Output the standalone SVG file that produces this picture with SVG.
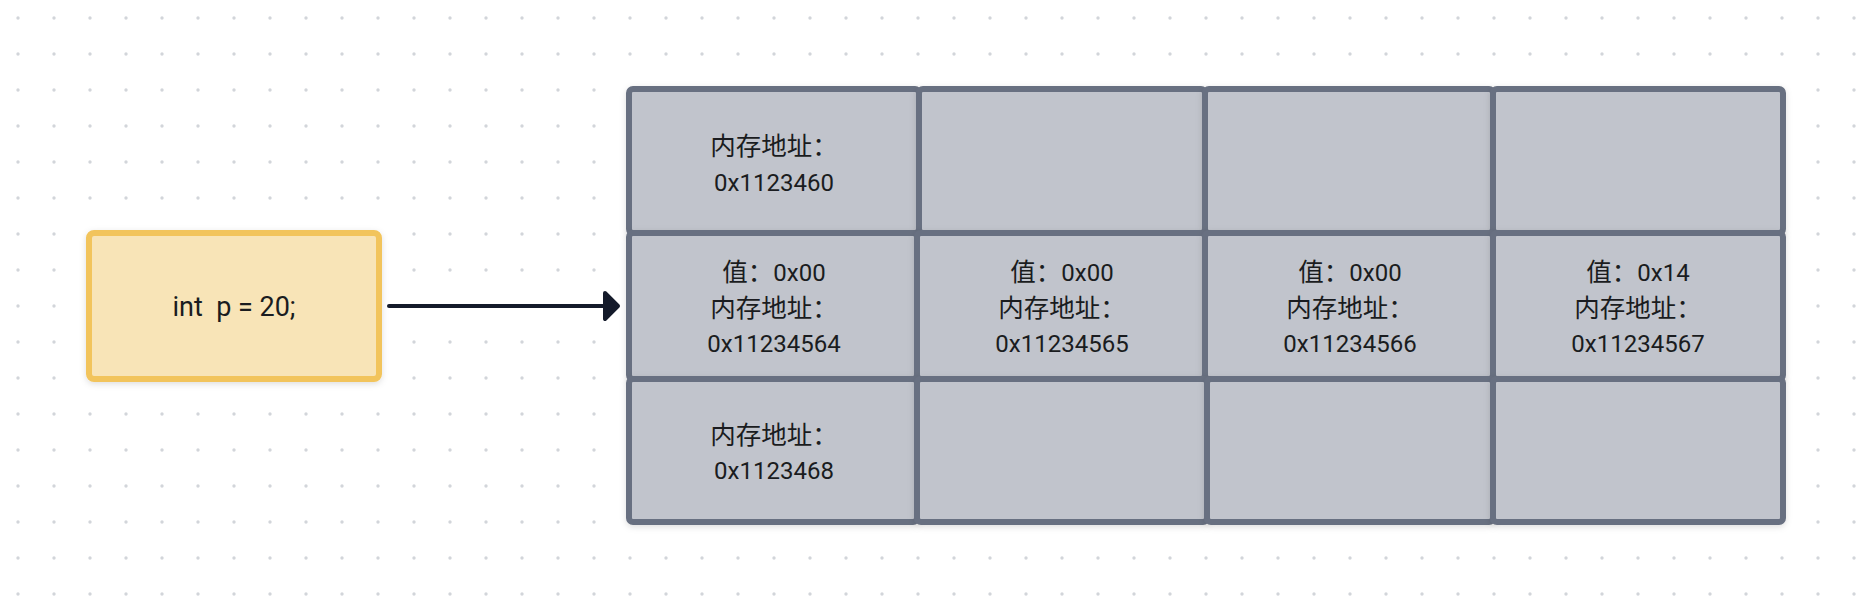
<svg xmlns="http://www.w3.org/2000/svg" width="1872" height="612" viewBox="0 0 1872 612">
  <style>
    .cell { fill: #c1c4cc; stroke: #687081; stroke-width: 6; filter: url(#shadow); }
    .var { fill: #f8e4b7; stroke: #f2c45b; stroke-width: 6; filter: url(#shadow); }
    .t { font-family: Roboto, "Noto Sans CJK SC", sans-serif; font-size: 24px; fill: #1a1c20; text-anchor: middle; }
    .cjk { font-family: "Noto Sans CJK SC", sans-serif; font-size: 25.5px; }
    .code { font-family: Roboto, "Noto Sans CJK SC", sans-serif; font-size: 27px; fill: #1a1c20; text-anchor: middle; white-space: pre; }
    .edge { stroke: #141a2a; stroke-width: 4; fill: none; }
  </style>
  <defs>
    <pattern id="dots" width="36" height="36" patternUnits="userSpaceOnUse">
      <circle cx="18" cy="18" r="1.7" fill="#d2d5da"/>
    </pattern>
    <filter id="shadow" x="-10%" y="-10%" width="120%" height="130%">
      <feDropShadow dx="0" dy="2" stdDeviation="3" flood-color="#000" flood-opacity="0.13"/>
    </filter>
    <marker id="arrow" viewBox="0 0 20 36" markerUnits="userSpaceOnUse" markerWidth="20" markerHeight="36" refX="2" refY="18" orient="auto" overflow="visible">
      <path d="M2,5 L15,18 L2,31 Z" fill="#141a2a" stroke="#141a2a" stroke-width="4" stroke-linejoin="round"/>
    </marker>
  </defs>
  <rect width="1872" height="612" fill="#ffffff"/>
  <rect width="1872" height="612" fill="url(#dots)"/>

  <g id="connectors">
    <line class="edge" x1="389" y1="306" x2="605" y2="306" stroke-linecap="round" marker-end="url(#arrow)"/>
  </g>

  <g id="var-p">
    <rect class="var" x="89" y="233" width="290" height="146" rx="5"/>
    <text class="code" x="234" y="316" xml:space="preserve">int  p = 20;</text>
  </g>

  <g id="mem-r1c1">
    <rect class="cell" x="629" y="89" width="290" height="144" rx="4"/>
    <text class="t cjk" x="774" y="155">内存地址：</text>
    <text class="t" x="774" y="190.5">0x1123460</text>
  </g>
  <g id="mem-r1c2">
    <rect class="cell" x="919" y="89" width="286" height="144" rx="4"/>
  </g>
  <g id="mem-r1c3">
    <rect class="cell" x="1205" y="89" width="288" height="144" rx="4"/>
  </g>
  <g id="mem-r1c4">
    <rect class="cell" x="1493" y="89" width="290" height="144" rx="4"/>
  </g>

  <g id="mem-r2c1">
    <rect class="cell" x="629" y="233" width="288" height="146" rx="4"/>
    <text class="t" x="774" y="281"><tspan class="cjk">值：</tspan>0x00</text>
    <text class="t cjk" x="774" y="316.5">内存地址：</text>
    <text class="t" x="774" y="352">0x11234564</text>
  </g>
  <g id="mem-r2c2">
    <rect class="cell" x="917" y="233" width="288" height="146" rx="4"/>
    <text class="t" x="1062" y="281"><tspan class="cjk">值：</tspan>0x00</text>
    <text class="t cjk" x="1062" y="316.5">内存地址：</text>
    <text class="t" x="1062" y="352">0x11234565</text>
  </g>
  <g id="mem-r2c3">
    <rect class="cell" x="1205" y="233" width="288" height="146" rx="4"/>
    <text class="t" x="1350" y="281"><tspan class="cjk">值：</tspan>0x00</text>
    <text class="t cjk" x="1350" y="316.5">内存地址：</text>
    <text class="t" x="1350" y="352">0x11234566</text>
  </g>
  <g id="mem-r2c4">
    <rect class="cell" x="1493" y="233" width="290" height="146" rx="4"/>
    <text class="t" x="1638" y="281"><tspan class="cjk">值：</tspan>0x14</text>
    <text class="t cjk" x="1638" y="316.5">内存地址：</text>
    <text class="t" x="1638" y="352">0x11234567</text>
  </g>

  <g id="mem-r3c1">
    <rect class="cell" x="629" y="379" width="288" height="143" rx="4"/>
    <text class="t cjk" x="774" y="444">内存地址：</text>
    <text class="t" x="774" y="479">0x1123468</text>
  </g>
  <g id="mem-r3c2">
    <rect class="cell" x="917" y="379" width="290" height="143" rx="4"/>
  </g>
  <g id="mem-r3c3">
    <rect class="cell" x="1207" y="379" width="286" height="143" rx="4"/>
  </g>
  <g id="mem-r3c4">
    <rect class="cell" x="1493" y="379" width="290" height="143" rx="4"/>
  </g>
</svg>
